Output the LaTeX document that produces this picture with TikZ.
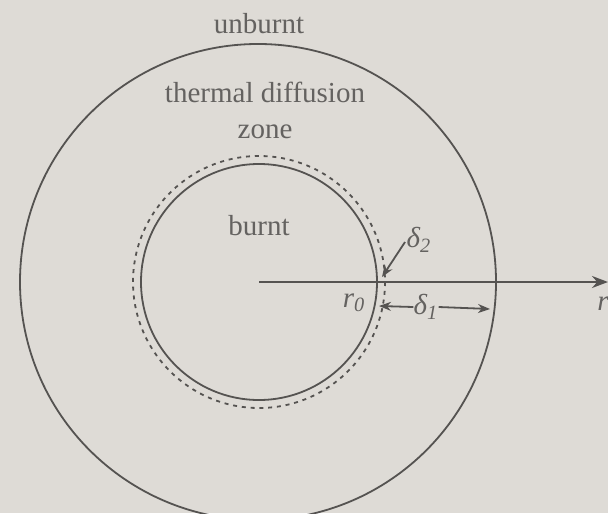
\documentclass[tikz,border=0pt]{standalone}
\usepackage{fontspec}
\setmainfont{Liberation Serif}
\usetikzlibrary{arrows.meta}
\definecolor{bg}{HTML}{DEDBD6}
\definecolor{ink}{HTML}{555351}
\definecolor{txt}{HTML}{646260}
\begin{document}
\begin{tikzpicture}[x=0.5pt,y=-0.5pt,
  lbl/.style={text=txt,font=\fontsize{14.5}{16}\selectfont,inner sep=0pt},
  ital/.style={lbl,font=\fontsize{14.5}{16}\selectfont\itshape},
  ring/.style={draw=ink,line width=0.9pt},
  arr/.style={draw=ink,line width=0.9pt,-{Stealth[length=6pt,width=4.5pt]}}]
\fill[bg] (0,0) rectangle (608,513);
\useasboundingbox (0,0) rectangle (608,513);
\coordinate (c) at (259,282);
\draw[ring] (258,282) circle[radius=238];
\draw[ring] (c) circle[radius=118];
\draw[draw=ink,line width=0.9pt,dash pattern=on 2pt off 2.4pt] (c) circle[radius=126];
\coordinate (axend) at (608,282);
\draw[arr,line width=1.1pt,-{Stealth[length=8pt,width=6pt]}] (c) -- (axend);
\node[lbl] (unburnt) at (259,24) {unburnt};
\node[lbl,align=center] (tdz) at (265,110) {thermal diffusion\\[2pt]zone};
\node[lbl] (burnt) at (259,226) {burnt};
\node[ital] (r) at (603,304) {r};
\node[ital] (r0) at (354,303) {r\textsubscript{0}};
\node[ital] (d1) at (426,307) {δ\textsubscript{1}};
\node[ital] (d2) at (419,240) {δ\textsubscript{2}};
\coordinate (d1l) at (379,306);
\coordinate (d1r) at (490,309);
\coordinate (d2t) at (382,277);
\draw[arr] (d1.west) -- (d1l);
\draw[arr] (d1.east) -- (d1r);
\draw[arr] (405,242) -- (d2t);
\end{tikzpicture}
\end{document}
